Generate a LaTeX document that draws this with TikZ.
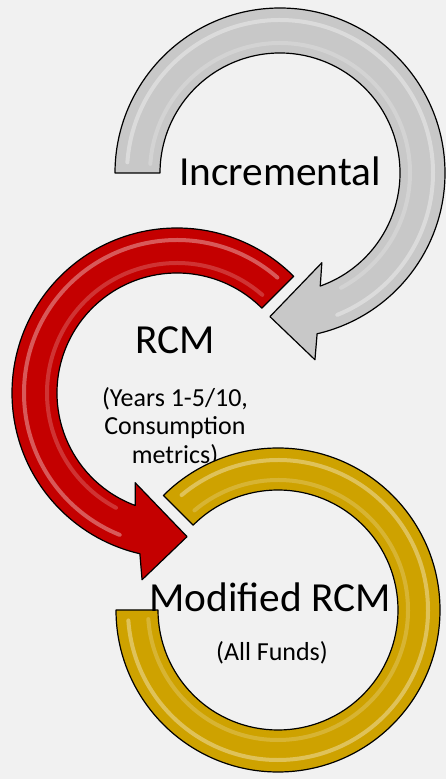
\documentclass[tikz,border=0pt]{standalone}
\usepackage{fontspec}
\setmainfont{Carlito}
\usetikzlibrary{calc}
\definecolor{backgray}{RGB}{241,241,241}
\definecolor{arrowgray}{RGB}{200,200,200}
\definecolor{arrowred}{RGB}{196,0,0}
\definecolor{arrowgold}{RGB}{206,162,0}
\tikzset{
  band/.style={draw=black, line width=0.9pt, line join=round},
  shine/.style={white, opacity=0.35, line width=3pt, line cap=round},
  bigtext/.style={font=\fontsize{31}{34}\selectfont, inner sep=0pt},
  smalltext/.style={font=\fontsize{19.5}{21.5}\selectfont, align=center, inner sep=0pt},
}
\begin{document}
\begin{tikzpicture}[x=0.75pt,y=0.75pt]
    \fill[backgray] (0,0) rectangle (446,779);
    \useasboundingbox (0,0) rectangle (446,779);
    \coordinate (gc) at (280,606);
    \coordinate (rc) at (177,386);
    \coordinate (yc) at (278,169);
    % gray arrow
    \filldraw[band, fill=arrowgray] ($(gc)+(180:165)$) arc[start angle=180, end angle=-77, radius=165]
        -- ($(gc)+(-79.4:190)$) -- ($(gc)+(-94:144)$) -- ($(gc)+(-65:99)$)
        -- ($(gc)+(-70.4:120)$) arc[start angle=-70.4, end angle=180, radius=120] -- cycle;
    \draw[shine] ($(gc)+(176:153)$) arc[start angle=176, end angle=-68, radius=153];
    \draw[shine, opacity=0.2] ($(gc)+(176:130)$) arc[start angle=176, end angle=-62, radius=130];
    \node[bigtext] (incr) at (280,608) {Incremental};
    % red arrow
    \filldraw[band, fill=arrowred] ($(rc)+(45:165)$) arc[start angle=45, end angle=257, radius=165]
        -- ($(rc)+(259.4:190)$) -- ($(rc)+(274:144)$) -- ($(rc)+(245:99)$)
        -- ($(rc)+(249.6:120)$) arc[start angle=249.6, end angle=45, radius=120] -- cycle;
    \draw[shine] ($(rc)+(49:153)$) arc[start angle=49, end angle=248, radius=153];
    \draw[shine, opacity=0.2] ($(rc)+(49:130)$) arc[start angle=49, end angle=242, radius=130];
    \node[bigtext] (rcm) at (175,439) {RCM};
    \node[smalltext] (rcmnote) at (175,352) {(Years 1-5/10,\\Consumption\\metrics)};
    % gold ring
    \filldraw[band, fill=arrowgold] ($(yc)+(180:162)$) arc[start angle=180, end angle=495, radius=162]
        -- ($(yc)+(135:120)$) arc[start angle=135, end angle=-180, radius=120] -- cycle;
    \draw[shine] ($(yc)+(184:150)$) arc[start angle=184, end angle=490, radius=150];
    \draw[shine, opacity=0.2] ($(yc)+(184:130)$) arc[start angle=184, end angle=490, radius=130];
    \node[bigtext] (mrcm) at (270,182) {Modified RCM};
    \node[smalltext] (mrcmnote) at (272,126) {(All Funds)};
\end{tikzpicture}
\end{document}
